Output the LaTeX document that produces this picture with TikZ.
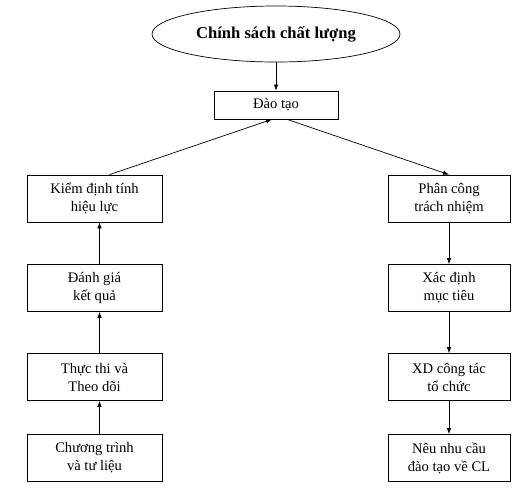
\documentclass[tikz,border=0pt]{standalone}
\usepackage{fontspec}
\setmainfont{Liberation Serif}
\usetikzlibrary{arrows.meta,shapes.geometric}
\newcommand\lbw{135pt}
\newcommand\rbw{122pt}
\newcommand\bxh{47pt}
\newcommand\lx{94.5}
\newcommand\rx{449}

\tikzset{
  box/.style={draw,minimum height=\bxh,align=center,inner sep=2pt,
    font=\fontsize{14.6}{18}\selectfont},
  arr/.style={-{Latex[length=6pt,width=4.5pt]}}
}

\begin{document}
\begin{tikzpicture}[x=1pt,y=-1pt,line width=0.7pt]
    \useasboundingbox (0,0) rectangle (528,488);

    \node[ellipse,draw,minimum width=248pt,minimum height=56pt,
      font=\bfseries\fontsize{16.6}{19}\selectfont] (chinhsach) at (276,34) {Chính sách chất lượng};
    \node[box,minimum width=124pt,minimum height=28pt] (daotao) at (276,105) {Đào tạo};

    \begin{scope}
      \node[box,minimum width=\lbw] (kiemdinh) at (\lx,198.5) {Kiểm định tính\\hiệu lực};
      \node[box,minimum width=\lbw] (danhgia) at (\lx,288) {Đánh giá\\kết quả};
      \node[box,minimum width=\lbw] (thucthi) at (\lx,377) {Thực thi và\\Theo dõi};
      \node[box,minimum width=\lbw] (chuongtrinh) at (\lx,458) {Chương trình\\và tư liệu};
    \end{scope}

    \begin{scope}
      \node[box,minimum width=\rbw] (phancong) at (\rx,198.5) {Phân công\\trách nhiệm};
      \node[box,minimum width=\rbw] (xacdinh) at (\rx,288) {Xác định\\mục tiêu};
      \node[box,minimum width=\rbw] (xd) at (\rx,377) {XD công tác\\tổ chức};
      \node[box,minimum width=\rbw] (neu) at (\rx,458) {Nêu nhu cầu\\đào tạo về CL};
    \end{scope}

    \draw[arr] (chinhsach) -- (daotao);

    \draw[arr] ([xshift=15pt]kiemdinh.north) -- ([xshift=-4pt]daotao.south);
    \draw[arr] ([xshift=11pt]daotao.south) -- (phancong.north);

    \draw[arr] ([xshift=5pt]danhgia.north) -- ([xshift=5pt]kiemdinh.south);
    \draw[arr] ([xshift=5pt]thucthi.north) -- ([xshift=5pt]danhgia.south);
    \draw[arr] ([xshift=5pt]chuongtrinh.north) -- ([xshift=5pt]thucthi.south);

    \draw[arr] (phancong) -- (xacdinh);
    \draw[arr] (xacdinh) -- (xd);
    \draw[arr] (xd) -- (neu);
  \end{tikzpicture}
\end{document}
